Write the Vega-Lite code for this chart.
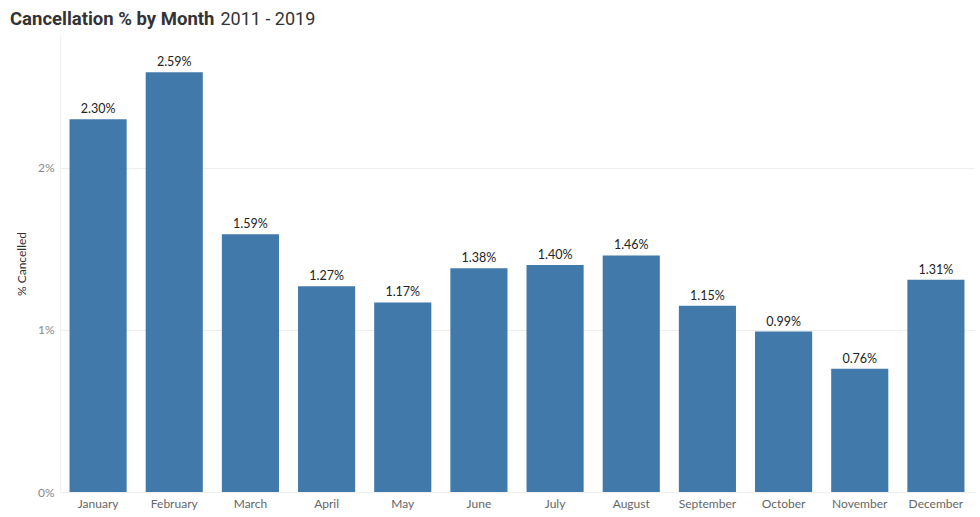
{
  "$schema": "https://vega.github.io/schema/vega-lite/v6.json",
  "autosize": {"type": "none"},
  "width": 914,
  "height": 457,
  "padding": {"left": 60, "top": 35, "right": 6, "bottom": 25},
  "background": "white",
  "title": {
    "text": "Cancellation % by Month",
    "font": "Roboto",
    "fontSize": 18.5,
    "fontWeight": "bold",
    "color": "#333333",
    "anchor": "start",
    "frame": "group",
    "baseline": "alphabetic",
    "offset": -33,
    "dx": -50
  },
  "data": {
    "values": [
      {"month": "January", "pct": 0.0230},
      {"month": "February", "pct": 0.0259},
      {"month": "March", "pct": 0.0159},
      {"month": "April", "pct": 0.0127},
      {"month": "May", "pct": 0.0117},
      {"month": "June", "pct": 0.0138},
      {"month": "July", "pct": 0.0140},
      {"month": "August", "pct": 0.0146},
      {"month": "September", "pct": 0.0115},
      {"month": "October", "pct": 0.0099},
      {"month": "November", "pct": 0.0076},
      {"month": "December", "pct": 0.0131}
    ]
  },
  "config": {
    "view": {"stroke": null},
    "axis": {"labelFont": "Lato", "titleFont": "Lato"}
  },
  "resolve": {"axis": {"x": "independent"}},
  "layer": [
    {
      "mark": {"type": "bar", "color": "#4179aa"},
      "encoding": {
        "x": {
          "field": "month",
          "type": "nominal",
          "sort": null,
          "scale": {"paddingInner": 0.25, "paddingOuter": 0.125},
          "axis": {
            "orient": "bottom",
            "title": null,
            "labelAngle": 0,
            "labelColor": "#666666",
            "labelFontSize": 12,
            "labelPadding": 6,
            "ticks": false,
            "domainColor": "#eeeeee",
            "grid": false
          }
        },
        "y": {
          "field": "pct",
          "type": "quantitative",
          "scale": {"domain": [0, 0.0282], "nice": false},
          "axis": {
            "title": "% Cancelled",
            "titleFontSize": 12,
            "titleFontWeight": "normal",
            "titleColor": "#333333",
            "titlePadding": 9,
            "format": ".0%",
            "values": [0, 0.01, 0.02],
            "labelColor": "#888888",
            "labelFontSize": 12,
            "labelPadding": 6,
            "ticks": false,
            "domainColor": "#f0f0f0",
            "gridColor": "#eeeeee",
            "labelBaseline": "middle"
          }
        }
      }
    },
    {
      "mark": {"type": "text", "baseline": "alphabetic", "dy": -6, "font": "Lato", "fontSize": 12.5, "color": "#222222"},
      "encoding": {
        "x": {
          "field": "month",
          "type": "nominal",
          "sort": null,
          "axis": {
            "orient": "top",
            "title": "2011 - 2019",
            "titleFont": "Roboto",
            "titleFontSize": 18,
            "titleFontWeight": "normal",
            "titleColor": "#333333",
            "titleAnchor": "start",
            "titleAlign": "left",
            "titleBaseline": "alphabetic",
            "titleX": 160,
            "titleY": -11,
            "labels": false,
            "ticks": false,
            "domain": false,
            "grid": false
          }
        },
        "y": {"field": "pct", "type": "quantitative"},
        "text": {"field": "pct", "type": "quantitative", "format": ".2%"}
      }
    }
  ]
}
